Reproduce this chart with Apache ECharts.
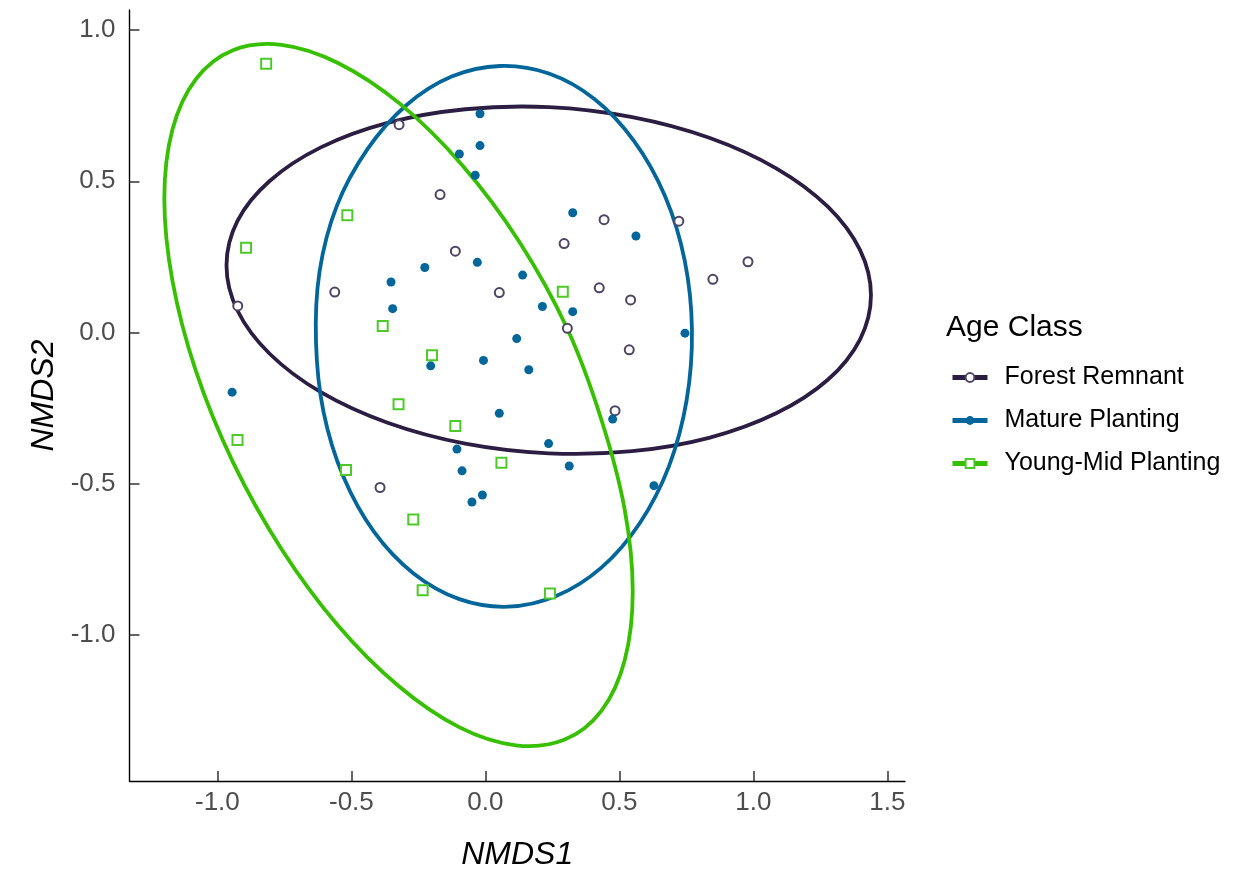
<!DOCTYPE html>
<html>
<head>
<meta charset="utf-8">
<script src="https://cdn.jsdelivr.net/npm/echarts@6/dist/echarts.min.js"></script>
<style>
html,body{margin:0;padding:0;background:#fff;}
#chart{width:1235px;height:876px;}
</style>
</head>
<body>
<div id="chart"></div>
<script>
// ---- data ----
const groups = ['Forest Remnant', 'Mature Planting', 'Young-Mid Planting'];
const xTicks = [-1.0, -0.5, 0.0, 0.5, 1.0, 1.5];
const yTicks = [-1.0, -0.5, 0.0, 0.5, 1.0];

const forestPts = [
  [-0.322,0.687],[-0.169,0.456],[-0.112,0.269],[0.052,0.132],[0.294,0.294],
  [0.443,0.373],[0.542,0.108],[0.425,0.148],[0.306,0.014],[0.537,-0.057],
  [0.484,-0.258],[0.722,0.368],[0.849,0.176],[0.980,0.234],[-0.562,0.134],
  [-0.924,0.088],[-0.393,-0.512]
];
const maturePts = [
  [-0.020,0.723],[-0.020,0.618],[-0.097,0.590],[-0.038,0.520],[0.326,0.396],
  [0.562,0.319],[-0.226,0.215],[-0.030,0.232],[-0.352,0.167],[0.139,0.190],
  [-0.346,0.079],[0.213,0.086],[0.326,0.069],[0.117,-0.020],[-0.204,-0.110],
  [-0.007,-0.092],[0.162,-0.123],[0.052,-0.267],[0.475,-0.286],[-0.106,-0.385],
  [0.236,-0.367],[-0.087,-0.457],[0.313,-0.441],[-0.011,-0.537],[-0.050,-0.560],
  [0.745,-0.002],[-0.945,-0.197],[0.629,-0.506]
];
const youngPts = [
  [-0.818,0.888],[-0.515,0.388],[-0.893,0.280],[0.289,0.135],[-0.383,0.022],
  [-0.925,-0.355],[-0.520,-0.454],[-0.199,-0.075],[-0.324,-0.237],[-0.112,-0.309],
  [0.060,-0.430],[-0.269,-0.618],[-0.234,-0.852],[0.241,-0.862]
];

// ellipse outlines (closed loops)
const forestEllipse = [
  [1.439,0.123],[1.398,0.273],[1.278,0.416],[1.087,0.542],[0.838,0.643],
  [0.548,0.712],[0.237,0.745],[-0.075,0.738],[-0.365,0.693],[-0.614,0.612],
  [-0.805,0.501],[-0.925,0.369],[-0.966,0.222],[-0.925,0.073],[-0.805,-0.070],
  [-0.614,-0.197],[-0.365,-0.298],[-0.075,-0.367],[0.237,-0.399],[0.548,-0.392],
  [0.838,-0.347],[1.087,-0.266],[1.278,-0.156],[1.398,-0.023]
];
const matureEllipse = [
  [0.771,0.008],[0.744,0.238],[0.670,0.452],[0.555,0.633],[0.407,0.772],
  [0.237,0.856],[0.055,0.881],[-0.126,0.846],[-0.294,0.752],[-0.440,0.606],
  [-0.555,0.417],[-0.619,0.200],[-0.632,-0.032],[-0.604,-0.262],[-0.530,-0.476],
  [-0.416,-0.658],[-0.268,-0.796],[-0.097,-0.881],[0.085,-0.906],[0.266,-0.870],
  [0.434,-0.776],[0.576,-0.630],[0.685,-0.442],[0.751,-0.224]
];
const youngEllipse = [
  [0.550,-0.856],[0.520,-0.585],[0.433,-0.288],[0.305,0.014],[0.126,0.301],
  [-0.087,0.554],[-0.317,0.755],[-0.550,0.891],[-0.761,0.951],[-0.942,0.933],
  [-1.081,0.837],[-1.168,0.670],[-1.198,0.443],[-1.168,0.172],[-1.081,-0.125],
  [-0.942,-0.428],[-0.761,-0.715],[-0.550,-0.968],[-0.324,-1.168],[-0.098,-1.304],
  [0.113,-1.364],[0.294,-1.346],[0.433,-1.250],[0.520,-1.083]
];

// ---- style ----
const lineColors = ['#2c1e42', '#03669b', '#36c000'];
const ptColors = ['#4f4463', '#03669b', '#4ec92a'];
const symbols = ['emptyCircle', 'circle', 'emptyRect'];
const FONT = "'Liberation Sans', Arial, sans-serif";

const chart = echarts.init(document.getElementById('chart'), null, { renderer: 'canvas' });

// legend-only line series (gives line + symbol key)
function legendSeries(i) {
  return {
    name: groups[i], type: 'line', data: [], symbol: symbols[i], symbolSize: 9,
    lineStyle: { color: lineColors[i], width: 4 },
    itemStyle: { color: ptColors[i] }
  };
}
function ellipseSeries(i, pts) {
  return {
    name: groups[i], type: 'custom', coordinateSystem: 'cartesian2d', silent: true,
    data: [pts[0]], z: 2,
    renderItem: function (params, api) {
      return {
        type: 'polygon',
        shape: { points: pts.map(p => api.coord(p)), smooth: 0.34 },
        style: { fill: 'none', stroke: lineColors[i], lineWidth: 3.8 }
      };
    }
  };
}
function pointSeries(i, pts, size) {
  const empty = symbols[i].indexOf('empty') === 0;
  return {
    name: groups[i], type: 'scatter', data: pts, symbol: symbols[i], symbolSize: size, z: 3,
    itemStyle: empty
      ? { color: ptColors[i], borderColor: ptColors[i], borderWidth: 1.5, opacity: 1 }
      : { color: ptColors[i], opacity: 1 }
  };
}

const option = {
  animation: false,
  backgroundColor: '#ffffff',
  textStyle: { fontFamily: FONT },
  grid: { left: 129.5, right: 330, top: 10, bottom: 93.3, containLabel: false },
  title: {
    text: 'Age Class', left: 946, top: 313, padding: 0,
    textStyle: { fontFamily: FONT, fontSize: 30, fontWeight: 'normal', color: '#000' }
  },
  legend: {
    data: groups, orient: 'vertical', left: 950, top: 365, padding: 0,
    itemWidth: 35, itemHeight: 11, itemGap: 18,
    lineStyle: { width: 5 },
    textStyle: { fontFamily: FONT, fontSize: 25, color: '#000', padding: [0, 0, 0, 12] }
  },
  xAxis: {
    type: 'value', min: -1.328, max: 1.566,
    name: 'NMDS1', nameLocation: 'middle', nameGap: 58,
    nameTextStyle: { fontFamily: FONT, fontSize: 32, fontStyle: 'italic', color: '#000' },
    axisLine: { show: true, onZero: false, lineStyle: { color: '#000', width: 1.4 } },
    axisTick: { show: true, inside: true, length: 10, customValues: xTicks, lineStyle: { color: '#333', width: 1.5 } },
    axisLabel: { show: true, customValues: xTicks, margin: 9, fontFamily: FONT, fontSize: 26, color: '#4d4d4d',
      formatter: v => v.toFixed(1) },
    splitLine: { show: false }
  },
  yAxis: {
    type: 'value', min: -1.482, max: 1.066,
    name: 'NMDS2', nameLocation: 'middle', nameGap: 69, nameRotate: 90,
    nameTextStyle: { fontFamily: FONT, fontSize: 32, fontStyle: 'italic', color: '#000' },
    axisLine: { show: true, onZero: false, lineStyle: { color: '#000', width: 1.4 } },
    axisTick: { show: true, inside: true, length: 10, customValues: yTicks, lineStyle: { color: '#333', width: 1.5 } },
    axisLabel: { show: true, customValues: yTicks, margin: 14, fontFamily: FONT, fontSize: 26, color: '#4d4d4d',
      formatter: v => v.toFixed(1) },
    splitLine: { show: false }
  },
  series: [
    legendSeries(0), legendSeries(1), legendSeries(2),
    ellipseSeries(0, forestEllipse), ellipseSeries(1, matureEllipse), ellipseSeries(2, youngEllipse),
    pointSeries(0, forestPts, 9), pointSeries(1, maturePts, 9), pointSeries(2, youngPts, 10)
  ]
};
chart.setOption(option);
</script>
</body>
</html>
